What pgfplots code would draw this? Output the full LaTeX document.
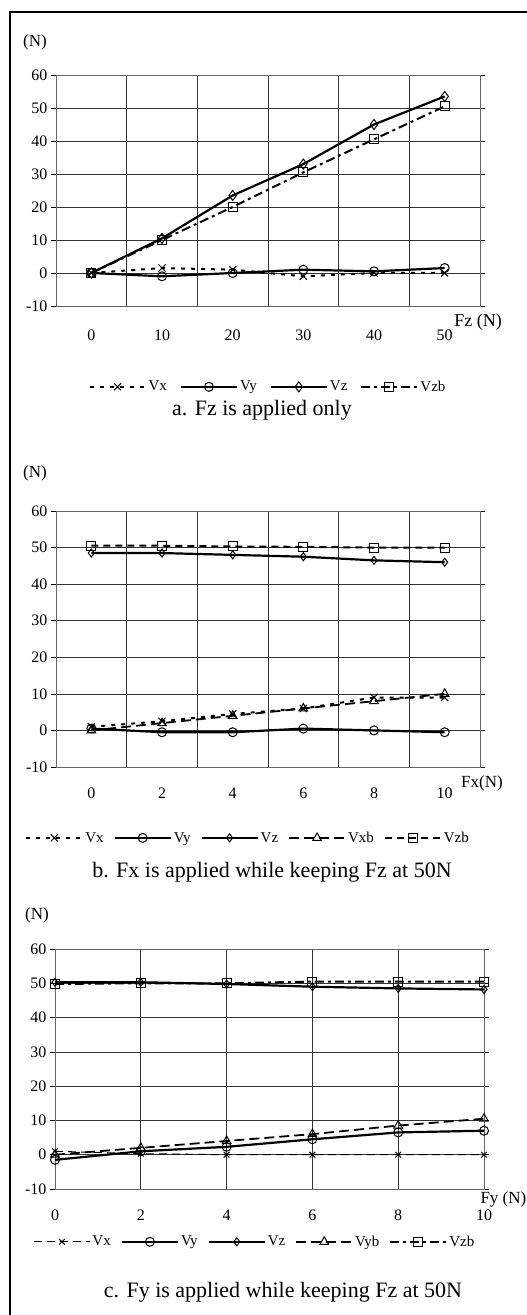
\documentclass[border=0pt]{standalone}
\usepackage{pgfplots}
\pgfplotsset{compat=1.18}
\usepackage{pgfplotstable}
\usepackage{fontspec}
\setmainfont{Liberation Serif}

\pgfplotstableread{
x Vx Vy Vz Vzb
0 0 0 0 0
10 1.5 -1 10.5 10
20 1 0 23.5 20
30 -1 1 33 30.5
40 0 0.5 45 40.5
50 0 1.5 53.5 50.5
}\dataA

\pgfplotstableread{
x Vx Vy Vz Vxb Vzb
0 1 0.5 48.5 0 50.5
2 2.5 -0.5 48.5 2 50.5
4 4.5 -0.5 48 4 50.3
6 6 0.5 47.5 6 50.2
8 9 0 46.5 8 50
10 9 -0.5 46 10 50
}\dataB

\pgfplotstableread{
x Vx Vy Vz Vyb Vzb
0 1 -1.5 50.3 0 49.8
2 0.3 1 50.3 2 50
4 0 2.3 49.8 4 50
6 0 4.5 49 6 50.5
8 0 6.5 48.5 8.5 50.5
10 0 7 48.2 10.5 50.5
}\dataC

\pgfplotsset{
  panel/.style={
    scale only axis,
    tick align=outside,
    ymin=-10, ymax=60,
    ytick={-10,0,...,60},
    ymajorgrids,
    grid style={black!80, line width=0.7pt},
    minor grid style={black!80, line width=0.7pt},
    axis line style={black!60, line width=0.7pt},
    major tick length=5pt,
    minor tick length=0pt,
    major x tick style={draw=none},
    tick style={black, line width=0.7pt},
    ticklabel style={font=\fontsize{16}{19}\selectfont},
    /pgf/number format/assume math mode=true,
    clip=false,
    legend style={draw=none, fill=none, font=\fontsize{15}{18}\selectfont,
      legend columns=-1, anchor=center,
      /tikz/every even column/.append style={column sep=8pt},
      /tikz/every odd column/.append style={column sep=0pt}},
    legend image code/.code={\draw[mark repeat=2, mark phase=2] plot coordinates {(0pt,0pt) (28pt,0pt) (56pt,0pt)};},
  },
  sVx/.style={black, line width=2pt, dash pattern=on 4pt off 6pt, mark=x, mark size=5pt, mark options={solid, line width=1pt}},
  sVy/.style={black, line width=2.2pt, mark=o, mark size=4.5pt, mark options={solid, fill=white, line width=1pt}},
  sVz/.style={black, line width=2.2pt, mark=diamond, mark size=5pt, mark options={solid, fill=white, line width=1pt}},
  sVzb/.style={black, line width=2pt, dash pattern=on 9pt off 4pt on 3pt off 4pt, mark=square, mark size=4.5pt, mark options={solid, fill=white, line width=1pt}},
  sVb/.style={black, line width=1.8pt, dash pattern=on 10pt off 5pt, mark=triangle, mark size=5pt, mark options={solid, fill=white, line width=1pt}},
}

\begin{document}
\begin{tikzpicture}[x=1pt,y=1pt]
\useasboundingbox (0,0) rectangle (527,1315);
\draw[black, line width=1.5pt] (10,0) -- (10,1303) -- (527,1303);

% ---------- Panel a ----------
\begin{axis}[panel, at={(56pt,1009pt)}, anchor=south west, width=424pt, height=231pt,
  xmin=-5, xmax=55, xtick={0,10,...,50}, minor xtick={5,15,...,45}, xminorgrids,
  xticklabel style={yshift=-15pt},
  legend style={at={(0.5,-0.35)}, /tikz/every even column/.append style={column sep=11pt}}]
\addplot[sVx] table[x=x,y=Vx]{\dataA};
\addplot[sVy] table[x=x,y=Vy]{\dataA};
\addplot[sVz] table[x=x,y=Vz]{\dataA};
\addplot[sVzb] table[x=x,y=Vzb]{\dataA};
\legend{Vx,Vy,Vz,Vzb}
\end{axis}
\node[font=\fontsize{17}{20}\selectfont] at (35,1273) {(N)};
\node[font=\fontsize{18}{21}\selectfont] at (478,993) {Fz (N)};
\node[font=\fontsize{22}{26}\selectfont] at (262,905) {a. Fz is applied only};

% ---------- Panel b ----------
\begin{axis}[panel, at={(56pt,548pt)}, anchor=south west, width=424pt, height=256pt,
  xmin=-1, xmax=11, xtick={0,2,...,10}, minor xtick={1,3,...,9}, xminorgrids,
  xticklabel style={yshift=-12pt},
  legend style={at={(0.453,-0.277)}}]
\addplot[sVx] table[x=x,y=Vx]{\dataB};
\addplot[sVy] table[x=x,y=Vy]{\dataB};
\addplot[sVz, mark size=4pt] table[x=x,y=Vz]{\dataB};
\addplot[sVb] table[x=x,y=Vxb]{\dataB};
\addplot[sVzb, dash pattern=on 7pt off 5pt] table[x=x,y=Vzb]{\dataB};
\legend{Vx,Vy,Vz,Vxb,Vzb}
\end{axis}
\node[font=\fontsize{17}{20}\selectfont] at (35,842) {(N)};
\node[font=\fontsize{17}{20}\selectfont] at (482,532) {Fx(N)};
\node[font=\fontsize{22}{26}\selectfont] at (272,443) {b. Fx is applied while keeping Fz at 50N};

% ---------- Panel c ----------
\begin{axis}[panel, at={(55pt,126pt)}, anchor=south west, width=429pt, height=240pt,
  xmin=0, xmax=10, xtick={0,2,...,10}, xmajorgrids,
  xticklabel style={yshift=-12pt},
  legend style={at={(0.466,-0.22)}}]
\addplot[sVx, line width=1pt, dash pattern=on 8pt off 5pt, mark size=4pt] table[x=x,y=Vx]{\dataC};
\addplot[sVy] table[x=x,y=Vy]{\dataC};
\addplot[sVz, mark size=4pt] table[x=x,y=Vz]{\dataC};
\addplot[sVb] table[x=x,y=Vyb]{\dataC};
\addplot[sVzb] table[x=x,y=Vzb]{\dataC};
\legend{Vx,Vy,Vz,Vyb,Vzb}
\end{axis}
\node[font=\fontsize{17}{20}\selectfont] at (37,400) {(N)};
\node[font=\fontsize{17}{20}\selectfont, anchor=west] at (477,116) {Fy (N)};
\node[font=\fontsize{22}{26}\selectfont] at (283,23) {c. Fy is applied while keeping Fz at 50N};
\end{tikzpicture}
\end{document}
